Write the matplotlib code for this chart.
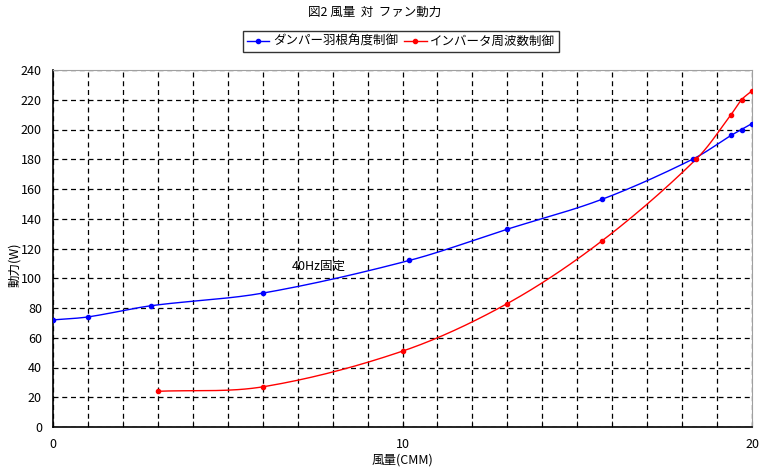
import numpy as np
import matplotlib
matplotlib.use('Agg')
import matplotlib.pyplot as plt
from matplotlib.ticker import MultipleLocator

plt.rcParams['font.family'] = ['Noto Sans CJK JP', 'DejaVu Sans']

# values
damper_x = [0, 1, 2.8, 6, 10.2, 13, 15.7, 18.3, 19.4, 19.7, 20]
damper_y = [72, 74, 81.5, 90, 112, 133, 153, 180, 196, 200, 204]
inverter_x = [3, 6, 10, 13, 15.7, 18.4, 19.4, 19.7, 20]
inverter_y = [24, 27, 51, 83, 125, 180, 210, 220, 226]

title = '図2 風量  対  ファン動力'
labels = ['ダンパー羽根角度制御', 'インバータ周波数制御']
xlabel = '風量(CMM)'
ylabel = '動力(W)'
note = '40Hz固定'


def smooth(xs, ys, n=30):
    # bezier smoothing, handles scaled to each segment so short steps stay straight
    sc = np.array([35.0, 1.4875])  # px per unit, smooth in screen space
    p = np.column_stack([xs, ys]).astype(float) * sc
    m = len(p)
    tang = []
    for i in range(m):
        d = p[min(i + 1, m - 1)] - p[max(i - 1, 0)]
        tang.append(d / np.linalg.norm(d))
    out = [p[0]]
    t = np.linspace(0, 1, n)[1:, None]
    for i in range(m - 1):
        p1, p2 = p[i], p[i + 1]
        L = np.linalg.norm(p2 - p1) * 0.33
        c1 = p1 + tang[i] * L
        c2 = p2 - tang[i + 1] * L
        seg = (1 - t) ** 3 * p1 + 3 * (1 - t) ** 2 * t * c1 + 3 * (1 - t) * t ** 2 * c2 + t ** 3 * p2
        out.extend(seg)
    out = np.array(out) / sc
    return out[:, 0], out[:, 1]


fig = plt.figure(figsize=(7.65, 4.67), dpi=100)
ax = fig.add_axes([53 / 765, 1 - 427 / 467, 699 / 765, 357 / 467])

for xs, ys, c, lab in [(damper_x, damper_y, '#0000ff', labels[0]),
                       (inverter_x, inverter_y, '#ff0000', labels[1])]:
    sx, sy = smooth(xs, ys)
    ax.plot(sx, sy, color=c, lw=1.0, zorder=3)
    ax.plot(xs, ys, ls='none', marker='o', ms=3.0, color=c, zorder=4)
    ax.plot([], [], color=c, lw=1.0, marker='o', ms=3.0, label=lab)

ax.set_xlim(0, 20)
ax.set_ylim(0, 240)
ax.xaxis.set_major_locator(MultipleLocator(10))
ax.xaxis.set_minor_locator(MultipleLocator(1))
ax.yaxis.set_major_locator(MultipleLocator(20))
ax.grid(True, which='both', color='black', ls=(0, (4, 3)), lw=0.9)
ax.tick_params(axis='x', which='both', direction='in', length=4, pad=8, labelsize=9)
ax.tick_params(axis='y', which='both', length=0, pad=8, labelsize=9)
ax.spines['top'].set_color('#a0a0a0')
ax.spines['right'].set_color('#a0a0a0')
for s in ['left', 'bottom']:
    ax.spines[s].set_linewidth(1.2)

ax.set_xlabel(xlabel, fontsize=9, labelpad=2)
fig.text(15 / 765, 1 - 265 / 467, ylabel, fontsize=9, rotation=90, ha='center', va='center')
ax.text(7.6, 108, note, fontsize=9, ha='center', va='center')

fig.text(375 / 765, 1 - 12 / 467, title, fontsize=9, ha='center', va='center')
leg = fig.legend(loc='center', bbox_to_anchor=(401 / 765, 1 - 41.5 / 467), ncol=2,
                 fontsize=9, frameon=True, fancybox=False, edgecolor='black',
                 handlelength=1.8, handletextpad=0.3, columnspacing=0.5,
                 borderpad=0.3, borderaxespad=0)
leg.get_frame().set_linewidth(1.0)

fig.savefig('out.png', dpi=100)
